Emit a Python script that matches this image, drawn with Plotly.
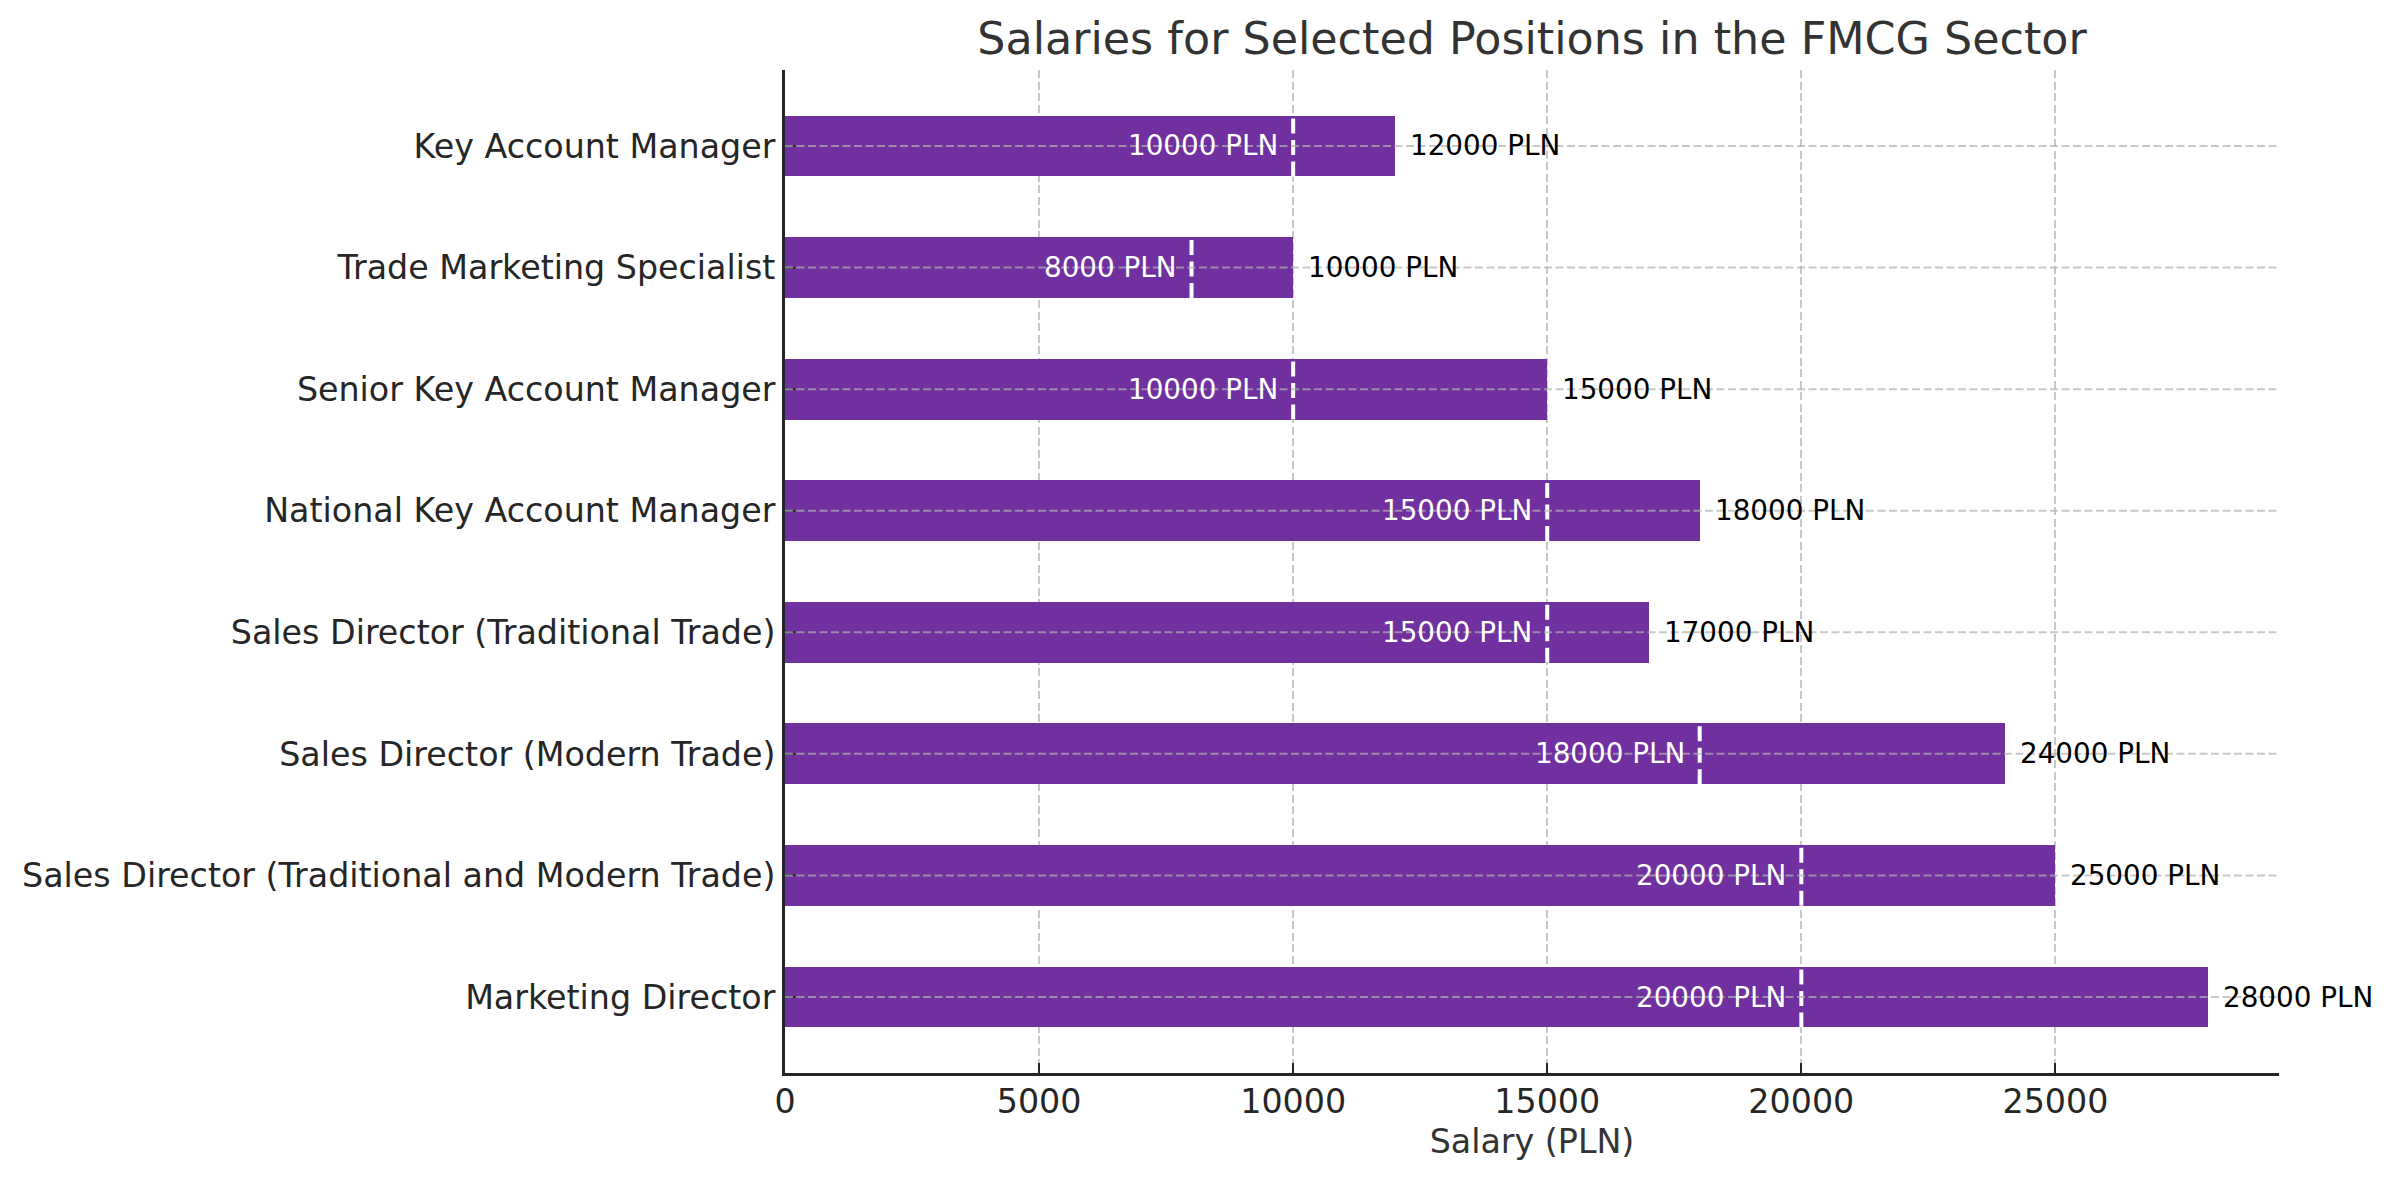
import plotly.graph_objects as go

# Data (listed top to bottom as in the chart)
positions = [
    "Key Account Manager",
    "Trade Marketing Specialist",
    "Senior Key Account Manager",
    "National Key Account Manager",
    "Sales Director (Traditional Trade)",
    "Sales Director (Modern Trade)",
    "Sales Director (Traditional and Modern Trade)",
    "Marketing Director",
]
min_salary = [10000, 8000, 10000, 15000, 15000, 18000, 20000, 20000]
max_salary = [12000, 10000, 15000, 18000, 17000, 24000, 25000, 28000]
x_ticks = [0, 5000, 10000, 15000, 20000, 25000]

n = len(positions)
ypos = [n - 1 - i for i in range(n)]  # first item on top

FONT = "DejaVu Sans"
PURPLE = "#7030A0"
GRID = "rgba(176,176,176,0.7)"
DARK = "#262626"

fig = go.Figure()

fig.add_trace(go.Bar(
    y=ypos, x=max_salary, orientation="h", width=0.5,
    marker=dict(color=PURPLE, line=dict(width=0)),
    hoverinfo="skip", showlegend=False,
))

# white dashed lines at minimum salary, spanning the bar height
lx, ly = [], []
for yv, mn in zip(ypos, min_salary):
    lx += [mn, mn, None]
    ly += [yv - 0.25, yv + 0.25, None]
fig.add_trace(go.Scatter(
    x=lx, y=ly, mode="lines",
    line=dict(color="white", width=4, dash="15px,6.5px"),
    hoverinfo="skip", showlegend=False,
))

shapes = []
annotations = []
for yv, mn, mx in zip(ypos, min_salary, max_salary):
    # horizontal dashed grid line drawn over bars
    shapes.append(dict(
        type="line", xref="paper", x0=0, x1=1, yref="y", y0=yv, y1=yv,
        line=dict(color=GRID, width=2, dash="8px,3.5px"), layer="above",
    ))
    annotations.append(dict(
        x=mn, y=yv, xref="x", yref="y", text=f"{mn} PLN", showarrow=False,
        xanchor="right", yanchor="middle", xshift=-13,
        font=dict(family=FONT, size=27.8, color="white"),
    ))
    annotations.append(dict(
        x=mx, y=yv, xref="x", yref="y", text=f"{mx} PLN", showarrow=False,
        xanchor="left", yanchor="middle", xshift=13,
        font=dict(family=FONT, size=27.8, color="black"),
    ))

fig.update_layout(
    width=2393, height=1180,
    margin=dict(l=785, r=114, t=70, b=107),
    paper_bgcolor="white", plot_bgcolor="white",
    font=dict(family=FONT, color=DARK),
    title=dict(
        text="Salaries for Selected Positions in the FMCG Sector",
        x=0.5, xref="paper", xanchor="center",
        y=1 - 38 / 1180, yref="container", yanchor="middle",
        font=dict(family=FONT, size=44.4, color="#333333"),
    ),
    shapes=shapes,
    annotations=annotations,
    bargap=0,
)

fig.update_xaxes(
    range=[0, 29400], tickvals=x_ticks, ticktext=[str(v) for v in x_ticks],
    showgrid=True, gridcolor=GRID, gridwidth=2, griddash="8px,3.5px",
    zeroline=False, showline=True, linecolor=DARK, linewidth=2.8,
    ticks="inside", ticklen=10, tickwidth=2.2, tickcolor=DARK,
    tickfont=dict(family=FONT, size=33.3, color=DARK),
    ticklabelstandoff=-3,
    title=dict(text="Salary (PLN)", font=dict(family=FONT, size=33.3, color="#333333"), standoff=10),
    mirror=False,
)
fig.update_yaxes(
    range=[-0.625, n - 1 + 0.625], tickvals=ypos, ticktext=positions,
    showgrid=False, zeroline=False, showline=True, linecolor=DARK, linewidth=2.8,
    ticks="inside", ticklen=10, tickwidth=2.2, tickcolor=DARK,
    tickfont=dict(family=FONT, size=33.3, color=DARK),
    ticklabelstandoff=0,
    mirror=False,
)

fig.write_html("out.html")
